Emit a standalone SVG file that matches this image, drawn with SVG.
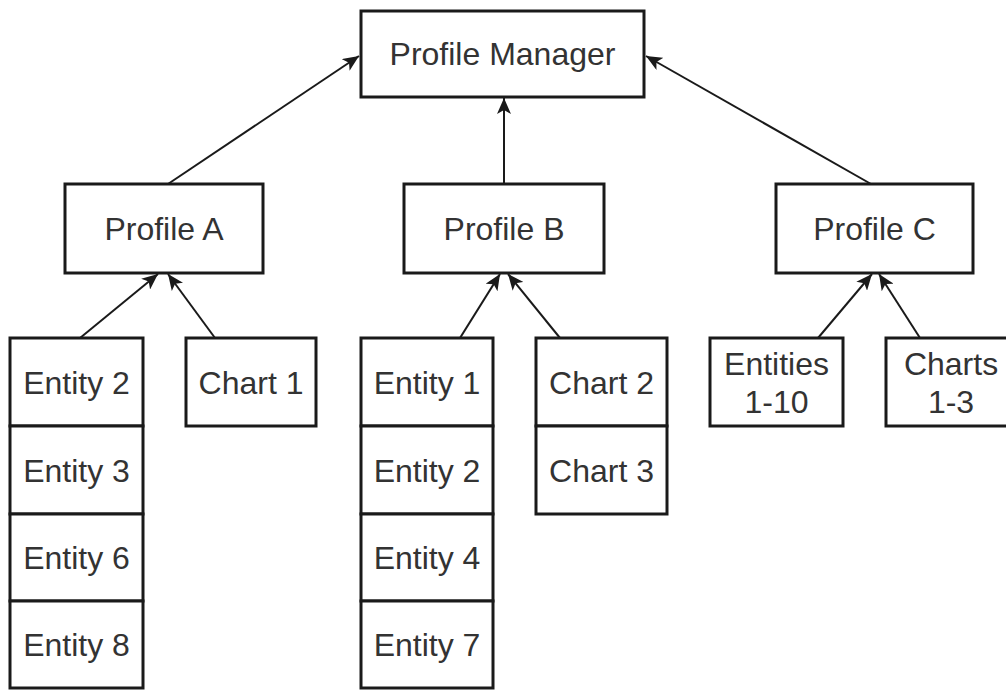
<svg xmlns="http://www.w3.org/2000/svg" width="1006" height="691" viewBox="0 0 1006 691">
<style>
.box{fill:#ffffff;stroke:#1a1a1a;stroke-width:3}
.lbl{font-family:"Liberation Sans",Arial,sans-serif;font-size:32px;fill:#333333;text-anchor:middle}
.conn{stroke:#1a1a1a;stroke-width:2;fill:none;marker-end:url(#arr)}
</style>
<defs>
<marker id="arr" markerUnits="userSpaceOnUse" markerWidth="16" markerHeight="14" viewBox="0 0 16 14" refX="16" refY="7" orient="auto">
<path d="M0,0 L16,7 L0,14 L4,7 Z" fill="#1a1a1a"/>
</marker>
</defs>
<rect width="1006" height="691" fill="#ffffff"/>
<g id="connectors">
<line class="conn" x1="168" y1="184" x2="359" y2="56"/>
<line class="conn" x1="504" y1="184" x2="504" y2="98"/>
<line class="conn" x1="871" y1="184" x2="646" y2="56"/>
<line class="conn" x1="80" y1="338" x2="158" y2="274"/>
<line class="conn" x1="215" y1="338" x2="168" y2="274"/>
<line class="conn" x1="460" y1="338" x2="500" y2="274"/>
<line class="conn" x1="560" y1="338" x2="508" y2="274"/>
<line class="conn" x1="818" y1="338" x2="872" y2="274"/>
<line class="conn" x1="920" y1="338" x2="879" y2="274"/>
</g>
<g id="profile-manager"><rect class="box" x="361" y="11" width="283" height="86"/><text class="lbl" x="502.5" y="65">Profile Manager</text></g>
<g id="profile-a"><rect class="box" x="65" y="184" width="198" height="89"/><text class="lbl" x="164" y="240">Profile A</text></g>
<g id="profile-b"><rect class="box" x="404" y="184" width="200" height="89"/><text class="lbl" x="504" y="240">Profile B</text></g>
<g id="profile-c"><rect class="box" x="776" y="184" width="197" height="89"/><text class="lbl" x="874.5" y="240">Profile C</text></g>
<g id="a-entity-2"><rect class="box" x="10" y="338" width="133" height="88"/><text class="lbl" x="76.5" y="394">Entity 2</text></g>
<g id="a-entity-3"><rect class="box" x="10" y="426" width="133" height="88"/><text class="lbl" x="76.5" y="482">Entity 3</text></g>
<g id="a-entity-6"><rect class="box" x="10" y="514" width="133" height="87"/><text class="lbl" x="76.5" y="569">Entity 6</text></g>
<g id="a-entity-8"><rect class="box" x="10" y="601" width="133" height="87"/><text class="lbl" x="76.5" y="656">Entity 8</text></g>
<g id="a-chart-1"><rect class="box" x="186" y="338" width="130" height="88"/><text class="lbl" x="251" y="394">Chart 1</text></g>
<g id="b-entity-1"><rect class="box" x="361" y="338" width="132" height="88"/><text class="lbl" x="427" y="394">Entity 1</text></g>
<g id="b-entity-2"><rect class="box" x="361" y="426" width="132" height="88"/><text class="lbl" x="427" y="482">Entity 2</text></g>
<g id="b-entity-4"><rect class="box" x="361" y="514" width="132" height="87"/><text class="lbl" x="427" y="569">Entity 4</text></g>
<g id="b-entity-7"><rect class="box" x="361" y="601" width="132" height="87"/><text class="lbl" x="427" y="656">Entity 7</text></g>
<g id="b-chart-2"><rect class="box" x="536" y="338" width="131" height="88"/><text class="lbl" x="601.5" y="394">Chart 2</text></g>
<g id="b-chart-3"><rect class="box" x="536" y="426" width="131" height="88"/><text class="lbl" x="601.5" y="482">Chart 3</text></g>
<g id="c-entities"><rect class="box" x="710" y="338" width="133" height="88"/><text class="lbl" x="776.5" y="375">Entities</text><text class="lbl" x="776.5" y="413">1-10</text></g>
<g id="c-charts"><rect class="box" x="886" y="338" width="130" height="88"/><text class="lbl" x="951" y="375">Charts</text><text class="lbl" x="951" y="413">1-3</text></g>
</svg>
